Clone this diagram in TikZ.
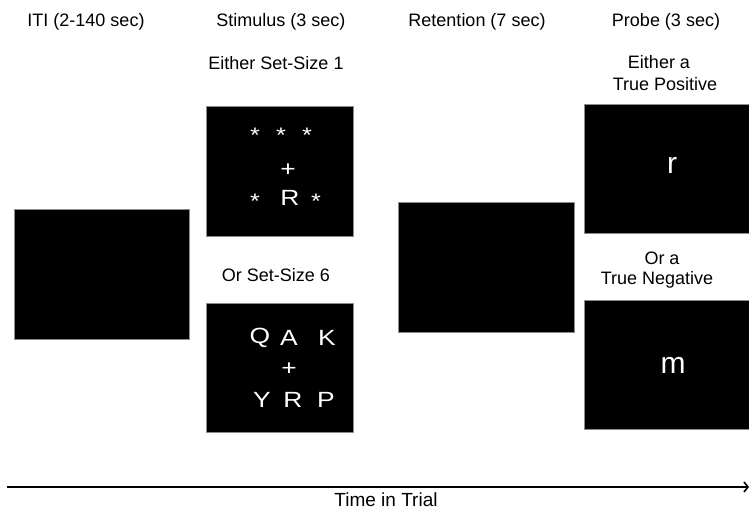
\documentclass[tikz,border=0pt]{standalone}
\usepackage{fontspec}
\setmainfont{Liberation Sans}
\usetikzlibrary{arrows.meta}
\newcommand\stretchtxt[1]{\scalebox{1.2}[1]{#1}}
\begin{document}
\begin{tikzpicture}[x=1pt,y=-1pt,
  screen/.style={fill=black,draw=black!45,line width=0.6pt},
  label/.style={font=\fontsize{18}{21}\selectfont,align=center,inner sep=0pt},
  ontext/.style={text=white,font=\fontsize{22}{24}\selectfont,inner sep=0pt},
  probetext/.style={text=white,font=\fontsize{30}{32}\selectfont,inner sep=0pt},
  startext/.style={text=white,font=\fontsize{21}{22}\selectfont,inner sep=0pt}]
\useasboundingbox (0,0) rectangle (749,509);
% headers
\node[label] (h1) at (86,22) {ITI (2-140 sec)};
\node[label] (h2) at (281,22) {Stimulus (3 sec)};
\node[label] (h3) at (477,22) {Retention (7 sec)};
\node[label] (h4) at (666,22) {Probe (3 sec)};
% sub labels
\node[label] (s1) at (276,63) {Either Set-Size 1};
\node[label] (s2) at (276,275) {Or Set-Size 6};
\node[label] (p1a) at (659,62) {Either a};
\node[label] (p1b) at (665,84) {True Positive};
\node[label] (p2a) at (662,258) {Or a};
\node[label] (p2b) at (657,280) {True Negative};
% screens
\path[screen] (14,209) rectangle (189,339);
\path[screen] (206,106) rectangle (353,236);
\path[screen] (206,303) rectangle (353,432);
\path[screen] (398,202) rectangle (574,332);
\path[screen] (584,104) rectangle (752,233);
\path[screen] (584,300) rectangle (752,429);
% set-size 1
\node[startext] (st1) at (255,135) {\stretchtxt{*}};
\node[startext] (st2) at (281,135) {\stretchtxt{*}};
\node[startext] (st3) at (307,135) {\stretchtxt{*}};
\node[ontext] (fx1) at (288,170) {\stretchtxt{+}};
\node[startext] (st4) at (255,201) {\stretchtxt{*}};
\node[ontext] (r1) at (290,198) {\stretchtxt{R}};
\node[startext] (st5) at (316,201) {\stretchtxt{*}};
% set-size 6
\node[ontext] (q) at (260,338) {\stretchtxt{Q}};
\node[ontext] (a) at (289,338) {\stretchtxt{A}};
\node[ontext] (k) at (327,338) {\stretchtxt{K}};
\node[ontext] (fx2) at (289,369) {\stretchtxt{+}};
\node[ontext] (y) at (262,400) {\stretchtxt{Y}};
\node[ontext] (r2) at (293,400) {\stretchtxt{R}};
\node[ontext] (p) at (326,400) {\stretchtxt{P}};
% probes
\node[probetext,anchor=base] (pr) at (672,173) {r};
\node[probetext,anchor=base] (pm) at (673,373) {m};
% time axis
\coordinate (t0) at (7,487);
\coordinate (t1) at (749,487);
\draw[line width=2pt,-{Straight Barb[length=4pt,width=10pt,line width=1.6pt]}] (t0) -- (t1);
\node[label,font=\fontsize{19}{21}\selectfont,anchor=base] (tt) at (386,506) {Time in Trial};
\end{tikzpicture}
\end{document}
